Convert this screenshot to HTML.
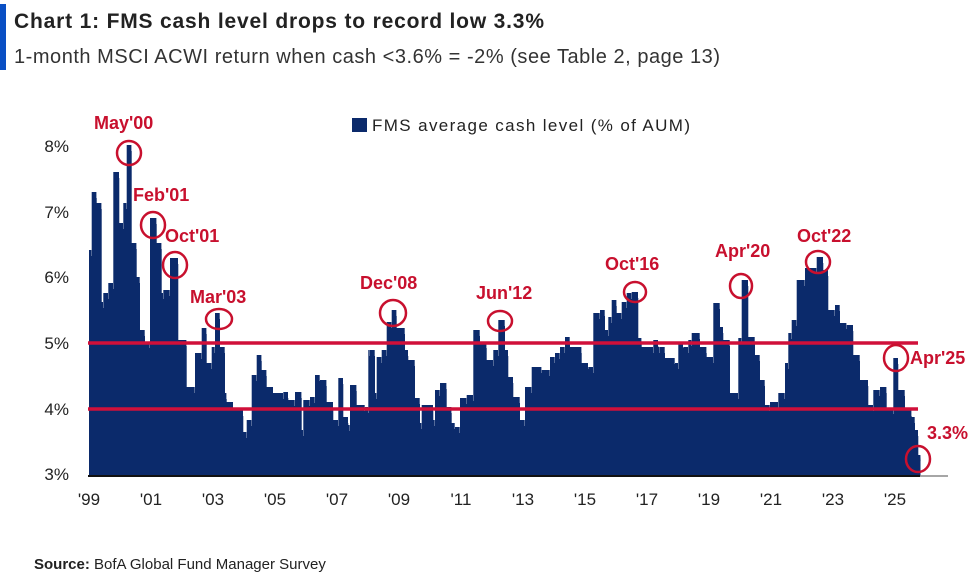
<!DOCTYPE html>
<html><head><meta charset="utf-8"><style>
html,body{margin:0;padding:0;background:#fff;}
body{width:979px;height:582px;overflow:hidden;position:relative;font-family:"Liberation Sans",sans-serif;}
</style></head><body>
<svg id="s" width="979" height="582" xmlns="http://www.w3.org/2000/svg" style="position:absolute;left:0;top:0">
<rect x="0" y="4" width="6" height="66" fill="#0a4fc4"/>
<text x="14" y="28" font-family="Liberation Sans, sans-serif" font-weight="bold" font-size="21" fill="#222" textLength="530">Chart 1: FMS cash level drops to record low 3.3%</text>
<text x="14" y="63" font-family="Liberation Sans, sans-serif" font-size="20" fill="#333" textLength="706">1-month MSCI ACWI return when cash &lt;3.6% = -2% (see Table 2, page 13)</text>
<rect x="352" y="118" width="15" height="14" fill="#0b2a6b"/>
<text x="372" y="131" font-family="Liberation Sans, sans-serif" font-size="17" fill="#222" textLength="318">FMS average cash level (% of AUM)</text>
<g font-family="Liberation Sans, sans-serif" font-size="17" fill="#222" text-anchor="end">
<text x="69" y="152">8%</text><text x="69" y="218">7%</text><text x="69" y="283">6%</text>
<text x="69" y="349">5%</text><text x="69" y="415">4%</text><text x="69" y="480">3%</text>
</g>
<g font-family="Liberation Sans, sans-serif" font-size="17" fill="#222" text-anchor="middle">
<text x="89" y="505">'99</text><text x="151" y="505">'01</text><text x="213" y="505">'03</text><text x="275" y="505">'05</text>
<text x="337" y="505">'07</text><text x="399" y="505">'09</text><text x="461" y="505">'11</text><text x="523" y="505">'13</text>
<text x="585" y="505">'15</text><text x="647" y="505">'17</text><text x="709" y="505">'19</text><text x="771" y="505">'21</text>
<text x="833" y="505">'23</text><text x="895" y="505">'25</text>
</g>
<path id="bars" fill="#0b2a6b" d=""/>
<line x1="88" y1="476" x2="920" y2="476" stroke="#111" stroke-width="2"/>
<line x1="920" y1="476" x2="948" y2="476" stroke="#888" stroke-width="1.5"/>
<line x1="88" y1="343" x2="918" y2="343" stroke="#d0103a" stroke-width="3.5"/>
<line x1="88" y1="409" x2="918" y2="409" stroke="#d0103a" stroke-width="3.5"/>
<g fill="none" stroke="#c8102e" stroke-width="2.5">
<ellipse cx="129" cy="153" rx="12" ry="12"/>
<ellipse cx="153" cy="225" rx="12" ry="13"/>
<ellipse cx="175" cy="265" rx="12" ry="13"/>
<ellipse cx="219" cy="319" rx="13" ry="10"/>
<ellipse cx="393" cy="313" rx="13" ry="13"/>
<ellipse cx="500" cy="321" rx="12" ry="10"/>
<ellipse cx="635" cy="292" rx="11" ry="10"/>
<ellipse cx="741" cy="286" rx="11" ry="12"/>
<ellipse cx="818" cy="262" rx="12" ry="11"/>
<ellipse cx="896" cy="358" rx="12" ry="13"/>
<ellipse cx="918" cy="459" rx="12" ry="13"/>
</g>
<g font-family="Liberation Sans, sans-serif" font-size="18" font-weight="bold" fill="#c8102e">
<text x="94" y="129">May'00</text>
<text x="133" y="201">Feb'01</text>
<text x="165" y="242">Oct'01</text>
<text x="190" y="303">Mar'03</text>
<text x="360" y="289">Dec'08</text>
<text x="476" y="299">Jun'12</text>
<text x="605" y="270">Oct'16</text>
<text x="715" y="257">Apr'20</text>
<text x="797" y="242">Oct'22</text>
<text x="910" y="364">Apr'25</text>
<text x="927" y="439">3.3%</text>
</g>
<text x="34" y="569" font-family="Liberation Sans, sans-serif" font-size="15" fill="#222"><tspan font-weight="bold">Source:</tspan> BofA Global Fund Manager Survey</text>
</svg>
<script>
var z1=[[25,250],[35,192],[50,203],[65,302],[70,293],[85,283],[100,172],[118,223],[130,203],[140,145],[155,243],[170,277],[180,330],[195,342],[210,218],[230,243],[245,293],[250,290],[270,258],[295,340],[320,387],[345,353],[365,328],[380,363],[395,347],[405,313],[420,347],[435,393],[440,402],[460,410],[490,432],[500,420],[515,375],[530,355],[545,370],[560,387],[580,393],[610,392],[625,400],[645,392],[665,430],[670,400],[690,397],[705,375],[720,380],[740,402],[760,420],[775,378],[790,417],[805,425],[810,385],[830,405],[855,407],[865,350],[880,357]];
var z2=[[0,350],[15,393],[20,357],[35,350],[50,322],[65,310],[80,328],[105,350],[115,360],[135,398],[150,423],[155,405],[190,420],[195,390],[210,383],[230,407],[245,423],[255,427],[270,398],[290,395],[310,330],[330,342],[350,360],[370,350],[385,320],[405,350],[415,377],[430,397],[450,420],[465,387],[485,367],[515,370],[540,357],[555,353],[570,347],[585,337],[600,347],[635,363],[655,367],[670,313],[690,310],[705,330],[715,317],[725,300],[740,313],[755,302],[770,293],[785,292],[805,338],[815,347],[850,340],[865,347],[885,357]];
var z3=[[0,347],[15,358],[45,363],[55,342],[70,347],[85,340],[95,333],[120,347],[140,357],[160,303],[180,327],[190,340],[210,393],[235,338],[245,280],[265,337],[285,355],[300,380],[315,405],[330,402],[355,393],[375,363],[385,333],[395,320],[410,280],[435,268],[470,257],[490,270],[505,310],[525,305],[540,323],[560,325],[580,355],[600,380],[625,405],[640,390],[660,387],[680,408],[700,358],[715,390],[735,410],[755,417],[765,430],[775,455],[782,455]];
var pts=[];
z1.forEach(function(p){var x=80+p[0]/3;if(x<89)x=89;if(x<370)pts.push([x,p[1]]);});
z2.forEach(function(p){var x=370+p[0]/3;if(x<660)pts.push([x,p[1]]);});
z3.forEach(function(p){pts.push([660+p[0]/3,p[1]]);});
var B=476,d="M89 "+B;
for(var i=0;i<pts.length-1;i++){
  var x0=pts[i][0],x1=pts[i+1][0],y=pts[i][1];
  d+=" L"+x0.toFixed(1)+" "+y+" L"+(x1-0.3).toFixed(1)+" "+y+" L"+(x1-0.3).toFixed(1)+" "+(y+6)+" L"+x1.toFixed(1)+" "+(y+6);
}
d+=" L920.5 455 L920.5 "+B+" Z";
document.getElementById("bars").setAttribute("d",d);
</script>
</body></html>
